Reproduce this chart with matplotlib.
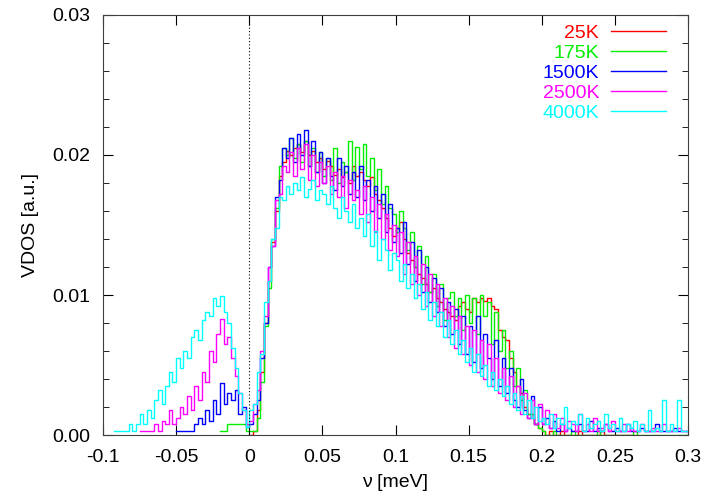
import numpy as np
import matplotlib
matplotlib.use("Agg")
import matplotlib.pyplot as plt
from matplotlib.lines import Line2D

plt.rcParams['font.family'] = ['Liberation Sans', 'DejaVu Sans']

# histogram bins (meV), 0.0025 wide, from -0.1 to 0.3
bin_width = 0.0025
edges = np.round(np.arange(-0.1, 0.3 + bin_width / 2, bin_width), 5)

nan = np.nan

# values in units of 1e-3 ; negative side (40 bins) + positive side (120 bins)
neg_25K = [nan] * 40
pos_25K = [0.0, 0.3, 1.8, 4.5, 8.0, 11.0, 13.8, 16.0, 18.5, 19.5,
           20.3, 20.0, 20.5, 20.8, 20.2, 21.0, 20.0, 20.3, 19.5, 19.8,
           19.0, 19.6, 19.2, 18.6, 19.0, 18.4, 18.8, 18.0, 19.2, 18.5,
           18.8, 18.2, 17.8, 18.4, 17.2, 16.8, 16.2, 15.5, 14.8, 14.2,
           14.8, 15.2, 14.0, 13.0, 12.5, 12.0, 11.5, 11.2, 10.8, 10.2,
           10.5, 9.8, 9.5, 9.0, 8.8, 8.5, 8.2, 9.2, 9.5, 9.0,
           8.8, 9.8, 9.5, 9.8, 9.6, 9.8, 9.2, 9.0, 7.5, 7.0,
           6.8, 5.5, 4.5, 3.5, 3.0, 2.0, 1.5, 1.2, 0.8, 0.5,
           0.3, 0.0, 0.3, 0.0, 0.0, 0.3, 0.0, 0.0, 0.0, 0.0,
           0.3, 0.0, 0.0, 0.0, 0.0, 0.0, 0.3, 0.0, 0.0, 0.0,
           0.0, 0.0, 0.0, 0.0, 0.0, 0.0] + [nan] * 14

neg_175K = [nan] * 32 + [0.3, 0.3, 0.8, 0.8, 0.8, 0.8, 0.8, 0.3]
pos_175K = [0.3, 0.3, 1.2, 3.8, 7.8, 10.5, 14.0, 16.2, 19.2, 20.5,
            20.0, 21.2, 19.8, 20.8, 19.5, 21.0, 19.2, 20.5, 18.8, 20.2,
            18.5, 19.8, 18.2, 20.5, 18.0, 19.5, 18.8, 21.0, 18.2, 20.6,
            19.0, 20.8, 18.5, 19.8, 17.5, 19.0, 16.5, 17.8, 16.2, 15.8,
            14.5, 16.0, 14.8, 13.2, 14.5, 12.0, 13.5, 10.8, 12.8, 10.2,
            11.5, 9.2, 10.8, 8.2, 9.8, 10.2, 8.5, 9.8, 7.5, 10.0,
            8.0, 9.8, 7.2, 10.0, 8.5, 9.5, 6.5, 8.8, 6.0, 7.5,
            4.8, 6.0, 3.5, 4.8, 2.5, 3.2, 1.5, 1.5, 0.8, 0.5,
            0.3, 0.0, 0.0, 0.3, 0.0, 0.0, 0.0, 0.0, 0.3, 0.0,
            0.0, 0.0, 0.0, 0.0, 0.0, 0.3, 0.0, 0.0, 0.0, 0.0,
            0.0, 0.0, 0.0, 0.0, 0.0, 0.3, 0.0, 0.0, 0.0, 0.0,
            0.0, 0.0, 0.0, 0.0, 0.0, 0.0, 0.0, 0.0, 0.0, 0.0]

neg_1500K = [nan] * 20 + [0.3, 0.3, 0.3, 0.3, 0.3, 0.8, 1.2, 0.8, 1.8, 1.0,
                          2.5, 1.5, 3.7, 2.2, 3.0, 2.5, 3.2, 1.5, 2.0, 0.6]
pos_1500K = [0.8, 1.5, 2.5, 5.5, 8.0, 12.0, 13.5, 17.0, 18.2, 20.5,
             19.8, 21.2, 19.5, 21.5, 20.0, 21.8, 19.2, 21.0, 18.8, 20.2,
             18.0, 19.8, 18.5, 17.5, 19.8, 17.8, 19.2, 17.2, 18.8, 17.0,
             19.2, 16.8, 18.2, 16.0, 17.8, 15.5, 17.2, 14.5, 16.5, 13.8,
             14.8, 13.0, 15.2, 12.2, 13.8, 11.0, 13.2, 10.2, 12.0, 9.5,
             11.2, 8.8, 10.5, 7.8, 9.5, 7.2, 9.0, 6.5, 8.5, 5.8,
             7.8, 5.2, 8.5, 4.8, 7.2, 5.5, 4.0, 6.8, 3.5, 5.5,
             3.0, 4.8, 2.5, 2.0, 4.0, 1.8, 1.2, 2.8, 0.8, 2.0,
             0.8, 1.2, 0.5, 1.0, 0.3, 0.8, 0.3, 0.5, 0.3, 0.3,
             0.8, 0.3, 0.3, 1.0, 0.3, 0.5, 0.3, 0.8, 0.3, 0.3,
             0.5, 0.3, 0.3, 0.8, 0.3, 0.3, 0.3, 0.5, 0.3, 0.3,
             0.3, 0.8, 0.3, 0.3, 0.3, 0.3, 0.5, 0.3, 0.3, 0.3]

neg_2500K = [nan] * 10 + [0.3, 0.3, 0.3, 0.3, 0.8, 0.3, 1.0, 0.8, 1.8, 0.8,
                          1.2, 2.0, 1.5, 2.8, 1.8, 3.5, 2.5, 4.5, 3.8, 6.0,
                          5.2, 7.2, 8.3, 6.5, 7.0, 5.5, 4.2, 3.0, 1.8, 0.8]
pos_2500K = [1.0, 2.2, 3.2, 6.0, 8.5, 12.0, 13.5, 16.8, 17.2, 19.2,
             18.8, 20.2, 18.5, 20.5, 19.0, 20.8, 18.2, 20.0, 17.8, 19.5,
             18.0, 19.2, 17.2, 18.8, 17.0, 18.5, 16.2, 18.2, 16.8, 17.5,
             15.8, 17.8, 15.2, 17.0, 14.5, 16.5, 14.0, 15.8, 13.2, 15.0,
             12.8, 14.5, 11.5, 13.8, 10.8, 12.8, 10.0, 12.2, 9.2, 11.5,
             8.5, 10.8, 7.8, 9.8, 7.0, 9.2, 6.2, 8.5, 5.8, 7.8,
             5.0, 7.5, 4.5, 6.8, 4.0, 6.5, 3.5, 5.5, 3.0, 4.8,
             2.5, 4.2, 2.0, 3.5, 1.5, 3.0, 1.2, 2.5, 0.8, 2.2,
             0.8, 1.8, 0.5, 1.5, 0.5, 1.2, 0.3, 1.0, 0.8, 0.3,
             1.5, 0.3, 0.8, 0.3, 1.2, 0.3, 0.5, 0.8, 0.3, 1.0,
             0.3, 0.3, 0.8, 0.3, 0.5, 0.3, 0.3, 0.8, 0.3, 0.3,
             0.5, 0.3, 0.3, 0.8, 0.3, 0.3, 0.3, 0.5, 0.3, 0.3]

neg_4000K = [nan, nan, nan, 0.3, 0.3, 0.3, 0.3, 0.8, 0.3, 0.8,
             1.5, 0.8, 1.8, 1.2, 2.5, 3.2, 2.2, 3.5, 4.5, 3.8,
             5.5, 4.8, 6.0, 5.5, 7.0, 7.5, 6.8, 8.2, 8.8, 8.5,
             9.8, 9.2, 9.9, 8.8, 8.0, 6.2, 4.8, 3.0, 1.8, 0.6]
pos_4000K = [1.8, 2.2, 4.5, 5.8, 9.5, 11.0, 14.0, 14.8, 17.0, 16.8,
             17.8, 17.2, 18.0, 17.5, 18.4, 17.0, 17.6, 18.2, 16.8, 17.5,
             17.2, 16.5, 17.8, 16.2, 15.5, 17.0, 16.0, 15.2, 16.5, 14.8,
             15.5, 14.2, 15.8, 13.5, 14.6, 12.5, 14.0, 13.2, 11.8, 13.0,
             12.5, 11.0, 12.2, 10.5, 11.5, 9.8, 10.8, 9.0, 10.2, 8.2,
             9.5, 7.8, 8.8, 7.0, 8.2, 6.5, 7.5, 5.8, 6.8, 5.2,
             6.2, 4.5, 5.8, 4.2, 5.0, 3.5, 4.5, 3.2, 4.0, 2.8,
             3.5, 2.2, 3.0, 1.8, 2.8, 1.5, 2.5, 1.2, 2.0, 1.0,
             1.2, 0.8, 1.5, 0.5, 1.2, 0.8, 2.0, 0.5, 1.0, 0.8,
             1.5, 0.3, 1.2, 0.5, 0.8, 1.0, 0.3, 1.5, 0.5, 0.8,
             0.3, 1.2, 0.3, 0.8, 0.5, 1.0, 0.3, 0.8, 0.3, 1.8,
             0.3, 0.5, 0.3, 2.5, 0.3, 0.8, 0.3, 2.5, 0.3, 0.3]

labels = ['25K', '175K', '1500K', '2500K', '4000K']
colors = ['#ff0000', '#00ee00', '#0000ff', '#ff00ff', '#00ffff']
series = [neg_25K + pos_25K, neg_175K + pos_175K, neg_1500K + pos_1500K,
          neg_2500K + pos_2500K, neg_4000K + pos_4000K]

xticks = [-0.1, -0.05, 0, 0.05, 0.1, 0.15, 0.2, 0.25, 0.3]
xticklabels = ['-0.1', '-0.05', '0', '0.05', '0.1', '0.15', '0.2', '0.25', '0.3']
yticks = [0.0, 0.01, 0.02, 0.03]
yticklabels = ['0.00', '0.01', '0.02', '0.03']

W, H = 705, 498
fig = plt.figure(figsize=(W / 100, H / 100), dpi=100)
ax = fig.add_axes([103 / W, 63 / H, 585 / W, 420 / H])

for vals, lab, col in zip(series, labels, colors):
    y = np.array(vals, dtype=float) * 1e-3
    ax.step(edges, np.append(y, y[-1]), where='post', color=col, lw=1.0, label=lab)

ax.axvline(0, color='black', ls=(0, (1, 2)), lw=0.8)

ax.set_xlim(-0.1, 0.3)
ax.set_ylim(0, 0.03)
ax.set_xticks(xticks)
ax.set_xticklabels(xticklabels)
ax.set_yticks(yticks)
ax.set_yticklabels(yticklabels)
ax.set_yticks(np.arange(0, 0.0301, 0.002), minor=True)
ax.tick_params(which='both', direction='in', top=True, right=True, labelsize=14)
ax.tick_params(axis='y', pad=9)
ax.tick_params(axis='x', pad=10)
ax.tick_params(which='major', length=7)
ax.tick_params(which='minor', length=4)
for s in ax.spines.values():
    s.set_color('#404040')

ax.set_xlabel('ν [meV]', fontsize=14, labelpad=6)
ax.set_ylabel('VDOS [a.u.]', fontsize=14, labelpad=10)

# gnuplot-style key: right-aligned coloured text, then a line sample
for i, (lab, col) in enumerate(zip(labels, colors)):
    ypix = 31 + 20 * i
    fig.text(599 / W, 1 - ypix / H, lab, color=col, fontsize=14,
             ha='right', va='center_baseline')
    fig.add_artist(Line2D([611 / W, 666 / W], [1 - ypix / H] * 2,
                          color=col, lw=1.0, transform=fig.transFigure))

fig.savefig('out.png', dpi=100)
